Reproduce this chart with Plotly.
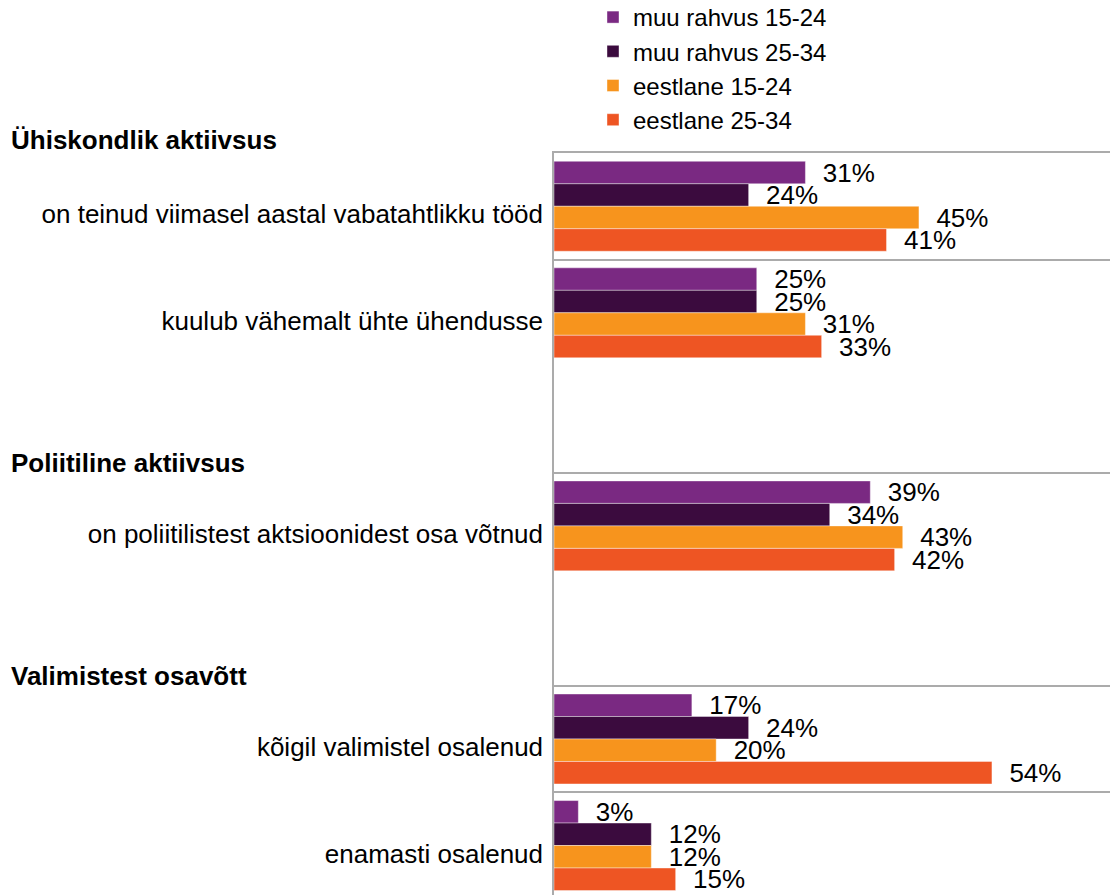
import plotly.graph_objects as go

categories = [
    "on teinud viimasel aastal vabatahtlikku tööd",
    "kuulub vähemalt ühte ühendusse",
    "Poliitiline aktiivsus",
    "on poliitilistest aktsioonidest osa võtnud",
    "Valimistest osavõtt",
    "kõigil valimistel osalenud",
    "enamasti osalenud",
]
item_labels = [
    "on teinud viimasel aastal vabatahtlikku tööd",
    "kuulub vähemalt ühte ühendusse",
    "on poliitilistest aktsioonidest osa võtnud",
    "kõigil valimistel osalenud",
    "enamasti osalenud",
]
section_titles = ["Ühiskondlik aktiivsus", "Poliitiline aktiivsus", "Valimistest osavõtt"]

series_names = ["muu rahvus 15-24", "muu rahvus 25-34", "eestlane 15-24", "eestlane 25-34"]
muu_15_24 = [31, 25, None, 39, None, 17, 3]
muu_25_34 = [24, 25, None, 34, None, 24, 12]
eest_15_24 = [45, 31, None, 43, None, 20, 12]
eest_25_34 = [41, 33, None, 42, None, 54, 15]
series_values = [muu_15_24, muu_25_34, eest_15_24, eest_25_34]
colors = ["#7A2982", "#3B0B3E", "#F7941D", "#EE5523"]

FONT = "Liberation Sans, Arial, sans-serif"

fig = go.Figure()
for name, vals, col in zip(series_names, series_values, colors):
    fig.add_trace(go.Bar(
        name=name, y=categories, x=vals, orientation="h",
        marker=dict(color=col, line=dict(color="rgba(255,255,255,0.5)", width=0.8)),
        texttemplate="\u00a0\u00a0%{x}%", textposition="outside",
        textfont=dict(family=FONT, size=26, color="black"),
        constraintext="none", cliponaxis=False,
    ))

fig.update_layout(
    width=1110, height=895,
    margin=dict(l=554, r=0, t=153, b=0, autoexpand=False),
    plot_bgcolor="white", paper_bgcolor="white",
    barmode="group", bargap=0.156, bargroupgap=0,
    font=dict(family=FONT, size=26, color="black"),
    showlegend=True,
    legend=dict(
        x=(593 - 554) / 556, xanchor="left",
        y=1 + 158 / 742, yanchor="top",
        font=dict(family=FONT, size=24, color="black"),
        bgcolor="rgba(0,0,0,0)", itemclick=False,
    ),
    xaxis=dict(range=[0, 556 / 8.11], showgrid=False, zeroline=False,
               showticklabels=False, side="top",
               showline=True, linecolor="#ABABAB", linewidth=1.5,
               fixedrange=True),
    yaxis=dict(
        type="category", categoryorder="array", categoryarray=categories,
        range=[6.5 - 3.8 / 106.5, -0.5],
        tickson="boundaries", showgrid=True, gridcolor="#ABABAB", gridwidth=1.5,
        showline=True, linecolor="#ABABAB", linewidth=1.5,
        ticks="", tickvals=item_labels, ticktext=item_labels,
        ticklabelstandoff=4, ticklabelshift=-8,
        tickfont=dict(family=FONT, size=26, color="black"),
        fixedrange=True,
    ),
)

title_y_px = [140, 463, 676]
for t, py in zip(section_titles, title_y_px):
    fig.add_annotation(
        text=f"<b>{t}</b>", xref="paper", yref="paper",
        x=-545 / 556, xanchor="left", y=(895 - py) / 742, yanchor="middle",
        showarrow=False, font=dict(family=FONT, size=26, color="black"),
    )

fig.write_html(
    "out.html",
    config={"displayModeBar": False},
    post_script="document.body.style.margin='0';document.body.style.overflow='hidden';",
)
